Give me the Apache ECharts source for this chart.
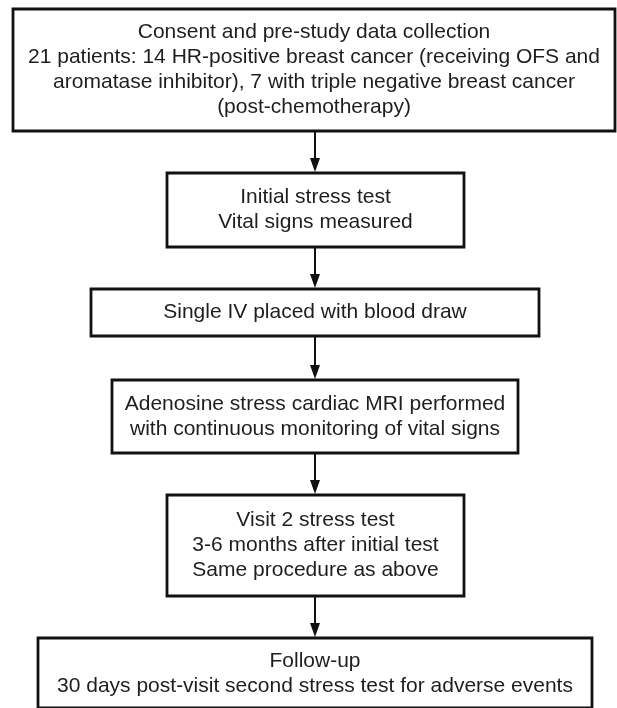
<!DOCTYPE html>
<html lang="en">
<head>
    <meta charset="UTF-8">
    <title>Study flow</title>
    <script src="https://cdn.jsdelivr.net/npm/echarts@6/dist/echarts.min.js"></script>
    <style>
        body { margin: 0; background: #fff; }
    </style>
</head>
<body>
<div id="main" style="width: 617px;height:708px;"></div>
<script type="text/javascript">
    // step texts, top to bottom
    var steps = [
        'Consent and pre-study data collection\n21 patients: 14 HR-positive breast cancer (receiving OFS and\naromatase inhibitor), 7 with triple negative breast cancer\n(post-chemotherapy)',
        'Initial stress test\nVital signs measured',
        'Single IV placed with blood draw',
        'Adenosine stress cardiac MRI performed\nwith continuous monitoring of vital signs',
        'Visit 2 stress test\n3-6 months after initial test\nSame procedure as above',
        'Follow-up\n30 days post-visit second stress test for adverse events'
    ];

    // box edges in pixels (layout)
    var boxLeft = [13, 167, 91, 112, 167, 38];
    var boxRight = [615, 464, 539, 518, 464, 592];
    var boxTop = [9, 173, 289, 380, 495, 638];
    var boxBottom = [131, 247, 336, 453, 596, 708];
    var centerX = 315;

    var boxData = steps.map(function (t, i) {
        return [boxLeft[i], boxTop[i], boxRight[i], boxBottom[i], t];
    });
    var arrowData = [];
    for (var i = 0; i < steps.length - 1; i++) {
        arrowData.push([centerX, boxBottom[i], boxTop[i + 1]]);
    }

    var myChart = echarts.init(document.getElementById('main'));
    myChart.setOption({
        animation: false,
        grid: {left: 0, right: 0, top: 0, bottom: 0},
        xAxis: {type: 'value', min: 0, max: 617, show: false},
        yAxis: {type: 'value', min: 0, max: 708, inverse: true, show: false},
        series: [{
            type: 'custom',
            silent: true,
            data: boxData,
            renderItem: function (params, api) {
                var p1 = api.coord([api.value(0), api.value(1)]);
                var p2 = api.coord([api.value(2), api.value(3)]);
                var last = params.dataIndex === steps.length - 1;
                return {
                    type: 'group',
                    children: [{
                        type: 'rect',
                        shape: {x: p1[0], y: p1[1], width: p2[0] - p1[0], height: p2[1] - p1[1]},
                        style: {fill: '#fff', stroke: '#111', lineWidth: 2.8}
                    }, {
                        type: 'text',
                        x: (p1[0] + p2[0]) / 2,
                        y: last ? p1[1] + 36 : (p1[1] + p2[1]) / 2,
                        style: {
                            text: boxData[params.dataIndex][4],
                            fill: '#1e1e1e',
                            font: '21px "Liberation Sans", Arial, sans-serif',
                            lineHeight: 25,
                            align: 'center',
                            verticalAlign: 'middle'
                        }
                    }]
                };
            }
        }, {
            type: 'custom',
            silent: true,
            data: arrowData,
            renderItem: function (params, api) {
                var a = api.coord([api.value(0), api.value(1)]);
                var b = api.coord([api.value(0), api.value(2)]);
                return {
                    type: 'group',
                    children: [{
                        type: 'line',
                        shape: {x1: a[0], y1: a[1], x2: b[0], y2: b[1] - 10},
                        style: {stroke: '#111', lineWidth: 2}
                    }, {
                        type: 'polygon',
                        shape: {points: [[b[0] - 5, b[1] - 15], [b[0] + 5, b[1] - 15], [b[0], b[1] - 1]]},
                        style: {fill: '#111'}
                    }]
                };
            }
        }]
    });
</script>
</body>
</html>
